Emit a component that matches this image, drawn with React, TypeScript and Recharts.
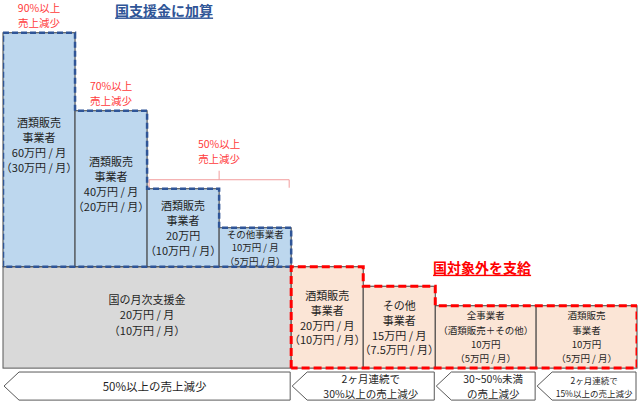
import { ComposedChart, Line, ReferenceArea, XAxis, YAxis } from "recharts";

const FONT = '"Noto Sans CJK JP", "Noto Sans", sans-serif';

// relative width of the 8 columns
const columnSpans = [1, 1, 1, 1, 1, 1, 1.4, 1.4];

// 国の月次支援金 (万円)
const supportAmount = 20;
const supportLines = ["国の月次支援金", "20万円 / 月", "（10万円 / 月）"];

// 国支援金に加算 (万円)
const bonusAmounts = [60, 40, 20, 10];
const bonusLines = [
  ["酒類販売", "事業者", "60万円 / 月", "（30万円 / 月）"],
  ["酒類販売", "事業者", "40万円 / 月", "（20万円 / 月）"],
  ["酒類販売", "事業者", "20万円", "（10万円 / 月）"],
  ["その他事業者", "10万円 / 月", "（5万円 / 月）"],
];
const bonusDrops = [
  ["90%以上", "売上減少"],
  ["70%以上", "売上減少"],
  ["50%以上", "売上減少"],
];

// 国対象外を支給 (万円)
const extraAmounts = [20, 15, 10, 10];
const extraLines = [
  ["酒類販売", "事業者", "20万円 / 月", "（10万円 / 月）"],
  ["その他", "事業者", "15万円 / 月", "（7.5万円 / 月）"],
  ["全事業者", "（酒類販売＋その他）", "10万円", "（5万円 / 月）"],
  ["酒類販売", "事業者", "10万円", "（5万円 / 月）"],
];

const periodLabels = [
  ["50%以上の売上減少"],
  ["2ヶ月連続で", "30%以上の売上減少"],
  ["30~50%未満", "の売上減少"],
  ["2ヶ月連続で", "15%以上の売上減少"],
];
const periodColumns = [
  [0, 4],
  [4, 6],
  [6, 7],
  [7, 8],
];

const Y_MIN = -15.2;
const Y_MAX = 88.4;
const FLOOR = -6;
const ARROW_TOP = -7;
const ARROW_BOTTOM = -14.2;

const edges = columnSpans.reduce<number[]>(
  (acc, s) => [...acc, acc[acc.length - 1] + s],
  [0]
);

const blueOutline: { x: number; y: number }[] = [{ x: edges[0], y: supportAmount }];
bonusAmounts.forEach((a, i) => {
  blueOutline.push({ x: edges[i], y: supportAmount + a }, { x: edges[i + 1], y: supportAmount + a });
});
blueOutline.push({ x: edges[4], y: supportAmount }, { x: edges[0], y: supportAmount });

const redOutline: { x: number; y: number }[] = [{ x: edges[4], y: FLOOR }];
extraAmounts.forEach((a, i) => {
  redOutline.push({ x: edges[4 + i], y: a }, { x: edges[5 + i], y: a });
});
redOutline.push({ x: edges[8], y: FLOOR }, { x: edges[4], y: FLOOR });

function TextBlock({
  cx,
  cy,
  lines,
  size,
  lh,
  color = "#1F1F1F",
}: {
  cx: number;
  cy: number;
  lines: string[];
  size: number;
  lh: number;
  color?: string;
}) {
  const top = cy - ((lines.length - 1) * lh) / 2;
  return (
    <g>
      {lines.map((l, i) => (
        <text
          key={i}
          x={cx}
          y={top + i * lh}
          textAnchor="middle"
          dominantBaseline="central"
          fontFamily={FONT}
          fontSize={size}
          fill={color}
        >
          {l}
        </text>
      ))}
    </g>
  );
}

const boxShape =
  (lines: string[], size: number, lh: number, dy: number, drop?: string[]) => (p: any) => (
    <g>
      <rect
        x={p.x}
        y={p.y}
        width={p.width}
        height={p.height}
        fill={p.fill}
        stroke={p.stroke}
        strokeWidth={1}
      />
      <TextBlock cx={p.x + p.width / 2} cy={p.y + p.height / 2 + dy} lines={lines} size={size} lh={lh} />
      {drop && (
        <TextBlock cx={p.x + p.width / 2} cy={p.y - 17.5} lines={drop} size={10.5} lh={15} color="#FF3B3B" />
      )}
    </g>
  );

const bracketShape = (p: any) => {
  const b = p.y + p.height;
  const l = p.x + 2;
  const r = p.x + p.width - 2;
  const m = (l + r) / 2;
  return (
    <g>
      <path
        d={`M${l},${b - 1}V${b - 9}H${r}V${b - 1}M${m},${b - 9}V${b - 18}`}
        fill="none"
        stroke="#F29C9C"
        strokeWidth={1}
      />
      <TextBlock cx={m} cy={b - 38} lines={bonusDrops[2]} size={10.5} lh={15} color="#FF3B3B" />
    </g>
  );
};

const arrowShape = (lines: string[], size: number, lh: number) => (p: any) => {
  const x0 = p.x + 1;
  const x1 = p.x + p.width - 1;
  const tip = 15;
  const yMid = p.y + p.height / 2;
  return (
    <g>
      <polygon
        points={`${x0},${yMid} ${x0 + tip},${p.y} ${x1},${p.y} ${x1},${p.y + p.height} ${x0 + tip},${p.y + p.height}`}
        fill="#FFFFFF"
        stroke="#595959"
        strokeWidth={1}
      />
      <TextBlock cx={(x0 + tip + x1) / 2} cy={yMid} lines={lines} size={size} lh={lh} />
    </g>
  );
};

const titleShape = (text: string, color: string, dx: number, dyFromBottom: number) => (p: any) => (
  <text
    x={p.x + p.width / 2 + dx}
    y={p.y + p.height - dyFromBottom}
    textAnchor="middle"
    dominantBaseline="central"
    fontFamily={FONT}
    fontSize={14}
    fontWeight="bold"
    fill={color}
    textDecoration="underline"
  >
    {text}
  </text>
);

export default function App() {
  return (
    <div style={{ position: "absolute", left: 0, top: 0, background: "#FFFFFF" }}>
      <ComposedChart width={640} height={404} margin={{ top: 0, right: 3, bottom: 0, left: 3 }}>
        <XAxis type="number" dataKey="x" domain={[edges[0], edges[8]]} allowDataOverflow hide />
        <YAxis type="number" domain={[Y_MIN, Y_MAX]} allowDataOverflow hide />

        <ReferenceArea
          x1={edges[0]}
          x2={edges[4]}
          y1={FLOOR}
          y2={supportAmount}
          fill="#D9D9D9"
          stroke="#595959"
          shape={boxShape(supportLines, 11, 15.5, -3)}
        />
        {bonusAmounts.map((a, i) => (
          <ReferenceArea
            key={`b${i}`}
            x1={edges[i]}
            x2={edges[i + 1]}
            y1={supportAmount}
            y2={supportAmount + a}
            fill="#BDD7EE"
            stroke="#404040"
            shape={boxShape(
              bonusLines[i],
              i === 3 ? 9.5 : 11,
              i === 3 ? 13.5 : 15,
              a >= 40 ? -5 : 0,
              i < 2 ? bonusDrops[i] : undefined
            )}
          />
        ))}
        <ReferenceArea
          x1={edges[2]}
          x2={edges[4]}
          y1={supportAmount + bonusAmounts[2]}
          y2={supportAmount + bonusAmounts[2] + 12}
          fill="none"
          shape={bracketShape}
        />
        {extraAmounts.map((a, i) => (
          <ReferenceArea
            key={`e${i}`}
            x1={edges[4 + i]}
            x2={edges[5 + i]}
            y1={FLOOR}
            y2={a}
            fill="#FBE5D6"
            stroke="#404040"
            shape={boxShape(extraLines[i], i < 2 ? 11 : 9.5, i < 2 ? 14.7 : 14.3, 0)}
          />
        ))}
        {periodColumns.map(([a, b], i) => (
          <ReferenceArea
            key={`p${i}`}
            x1={edges[a]}
            x2={edges[b]}
            y1={ARROW_BOTTOM}
            y2={ARROW_TOP}
            shape={arrowShape(periodLabels[i], i === 0 ? 11.5 : i === 3 ? 8.5 : 10.5, i === 3 ? 13 : 14.5)}
          />
        ))}
        <ReferenceArea
          x1={edges[0]}
          x2={edges[4]}
          y1={Y_MAX - 5}
          y2={Y_MAX}
          fill="none"
          shape={titleShape("国支援金に加算", "#2F5597", 17, 10)}
        />
        <ReferenceArea
          x1={edges[4]}
          x2={edges[8]}
          y1={extraAmounts[0]}
          y2={extraAmounts[0] + 5}
          fill="none"
          shape={titleShape("国対象外を支給", "#FF0000", 18, 0)}
        />

        <Line
          data={blueOutline}
          dataKey="y"
          type="linear"
          stroke="#2F5597"
          strokeWidth={2.5}
          strokeDasharray="6 3"
          dot={false}
          activeDot={false}
          isAnimationActive={false}
        />
        <Line
          data={redOutline}
          dataKey="y"
          type="linear"
          stroke="#FF0000"
          strokeWidth={3}
          strokeDasharray="8 4"
          dot={false}
          activeDot={false}
          isAnimationActive={false}
        />
      </ComposedChart>
    </div>
  );
}
